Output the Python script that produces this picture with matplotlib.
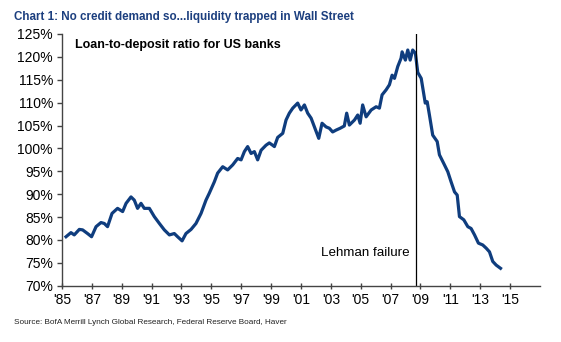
import matplotlib
matplotlib.use("Agg")
import matplotlib.pyplot as plt
from matplotlib.ticker import FixedLocator

plt.rcParams['font.family'] = ['Liberation Sans', 'DejaVu Sans']

# Loan-to-deposit ratio for US banks (%), by decimal year
years = [1985.27, 1985.60, 1985.82, 1986.16, 1986.38, 1986.71, 1986.98, 1987.28, 1987.61,
         1987.83, 1988.05, 1988.35, 1988.72, 1989.06, 1989.29, 1989.62, 1989.84, 1990.06,
         1990.29, 1990.51, 1990.85, 1991.18, 1991.52, 1991.85, 1992.19, 1992.52, 1992.74,
         1993.04, 1993.30, 1993.64, 1993.97, 1994.31, 1994.64, 1994.86, 1995.20, 1995.42,
         1995.76, 1996.09, 1996.43, 1996.76, 1996.99, 1997.21, 1997.43, 1997.66, 1997.88,
         1998.10, 1998.33, 1998.66, 1998.88, 1999.10, 1999.22, 1999.44, 1999.78, 2000.00,
         2000.22, 2000.45, 2000.78, 2001.00, 2001.23, 2001.45, 2001.68, 2001.90, 2002.19,
         2002.41, 2002.68, 2002.90, 2003.12, 2003.35, 2003.62, 2003.90, 2004.06, 2004.24,
         2004.58, 2004.80, 2004.96, 2005.13, 2005.36, 2005.70, 2006.03, 2006.25, 2006.43,
         2006.70, 2006.92, 2007.10, 2007.26, 2007.48, 2007.70, 2007.77, 2007.99, 2008.15,
         2008.31, 2008.48, 2008.66, 2008.82, 2009.05, 2009.16, 2009.32, 2009.45, 2009.60,
         2009.82, 2010.12, 2010.27, 2010.56, 2010.83, 2011.05, 2011.28, 2011.46, 2011.61,
         2011.90, 2012.17, 2012.39, 2012.62, 2012.88, 2013.17, 2013.40, 2013.62, 2013.84,
         2014.07, 2014.36]
ratio = [80.7, 81.6, 81.1, 82.3, 82.2, 81.4, 80.7, 82.9, 83.8,
         83.6, 82.9, 85.8, 86.9, 86.2, 88.0, 89.4, 88.7, 86.9,
         88.0, 86.9, 86.9, 85.1, 83.6, 82.2, 81.1, 81.4, 80.7,
         79.8, 81.4, 82.3, 83.6, 85.8, 88.7, 90.2, 92.7, 94.6,
         96.0, 95.3, 96.4, 97.8, 97.5, 99.3, 100.4, 98.9, 99.3,
         97.5, 99.6, 100.7, 101.2, 100.7, 100.4, 102.4, 103.3, 106.2,
         107.7, 108.8, 109.9, 108.4, 109.5, 107.7, 106.6, 104.7, 102.2,
         105.5, 104.7, 104.4, 103.6, 104.0, 104.4, 104.9, 107.7, 105.1,
         106.2, 107.3, 105.5, 109.5, 106.9, 108.4, 109.1, 108.8, 111.7,
         112.8, 113.9, 116.0, 115.3, 117.9, 119.7, 121.1, 119.3, 121.5,
         119.3, 121.5, 120.8, 116.6, 115.3, 113.1, 109.9, 110.2, 107.3,
         102.9, 101.5, 98.6, 96.7, 94.9, 92.7, 90.5, 89.8, 85.1,
         84.4, 82.9, 82.5, 81.1, 79.3, 78.9, 78.2, 77.4, 75.3,
         74.5, 73.8]

lehman_year = 2008.7
x_ticks = list(range(1985, 2017, 2))
x_tick_labels = ["'%02d" % (y % 100) for y in x_ticks]
y_ticks = list(range(70, 126, 5))
y_tick_labels = ["%d%%" % v for v in y_ticks]

fig = plt.figure(figsize=(5.61, 3.42), dpi=100)
ax = fig.add_axes([0.1105, 0.1646, 0.852, 0.736])

ax.plot(years, ratio, color='#0f3d7e', lw=2.3, solid_joinstyle='round')
ax.plot([lehman_year, lehman_year], [70, 125], color='black', lw=0.9)

ax.set_xlim(1985, 2017)
ax.set_ylim(70, 125)
ax.xaxis.set_major_locator(FixedLocator(x_ticks))
ax.set_xticklabels(x_tick_labels)
ax.yaxis.set_major_locator(FixedLocator(y_ticks))
ax.set_yticklabels(y_tick_labels)

for s in ('top', 'right'):
    ax.spines[s].set_visible(False)
for s in ('left', 'bottom'):
    ax.spines[s].set_color('#444444')
    ax.spines[s].set_linewidth(1.0)
ax.tick_params(axis='x', direction='inout', length=5, width=1, color='#444444',
               labelsize=10, pad=3)
ax.tick_params(axis='y', direction='out', length=3.5, width=1, color='#444444',
               labelsize=10, pad=3)

ax.text(1985.85, 122.7, 'Loan-to-deposit ratio for US banks', fontsize=9,
        fontweight='bold', color='black', va='center', ha='left')
ax.text(2008.25, 77.2, 'Lehman failure', fontsize=9.6, color='black',
        va='center', ha='right')

fig.text(14 / 561, 1 - 17 / 342, 'Chart 1: No credit demand so...liquidity trapped in Wall Street',
         fontsize=8.4, fontweight='bold', color='#1c3f7f', va='center', ha='left')
fig.text(14 / 561, 1 - 322 / 342,
         'Source: BofA Merrill Lynch Global Research, Federal Reserve Board, Haver',
         fontsize=5.9, color='#222222', va='center', ha='left')

fig.savefig('out.png', dpi=100)
